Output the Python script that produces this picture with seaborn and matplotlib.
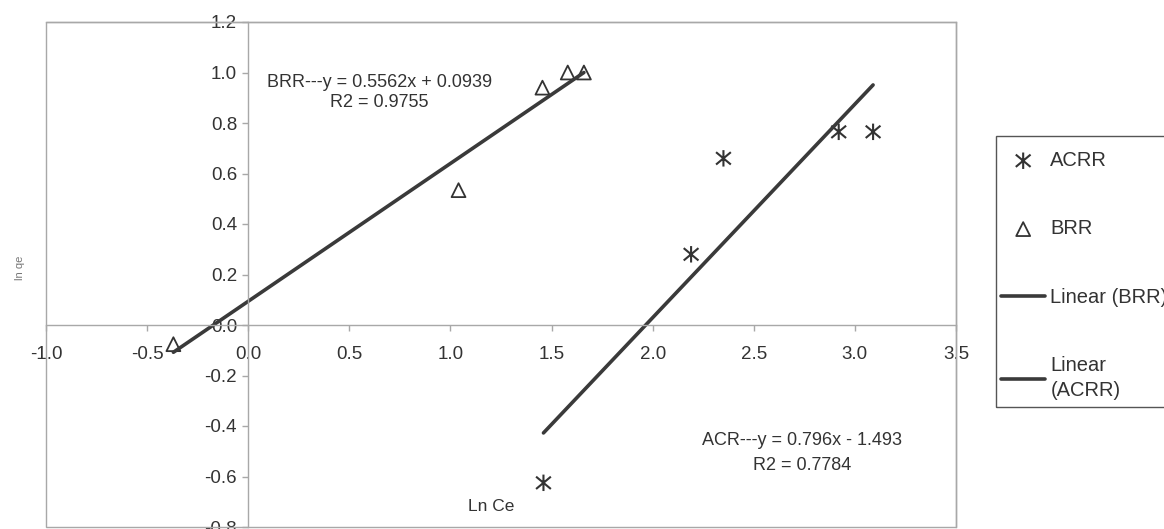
import numpy as np
import seaborn as sns
from matplotlib import pyplot as plt
from matplotlib.patches import Rectangle
from matplotlib.path import Path

sns.set_theme(style="white")
plt.rcParams['font.family'] = ['Liberation Sans', 'DejaVu Sans']

# values
brr_x = [-0.37, 1.04, 1.455, 1.58, 1.66]
brr_y = [-0.076, 0.534, 0.94, 1.0, 1.0]
acrr_x = [1.46, 2.19, 2.35, 2.92, 3.09]
acrr_y = [-0.625, 0.28, 0.66, 0.765, 0.765]

x_ticks = [-1.0, -0.5, 0.0, 0.5, 1.0, 1.5, 2.0, 2.5, 3.0, 3.5]
y_ticks = [-0.8, -0.6, -0.4, -0.2, 0.0, 0.2, 0.4, 0.6, 0.8, 1.0, 1.2]

brr_eq = ["BRR---y = 0.5562x + 0.0939", "R2 = 0.9755"]
acr_eq = ["ACR---y = 0.796x - 1.493", "R2 = 0.7784"]

dark = '#333333'
line_c = '#3a3a3a'
frame_c = '#a8a8a8'

# excel-like asterisk: an X with a vertical bar
star = Path([(0, -1), (0, 1), (-0.9, -0.75), (0.9, 0.75), (-0.9, 0.75), (0.9, -0.75)],
            [Path.MOVETO, Path.LINETO] * 3)

W, H = 1164, 529
fig = plt.figure(figsize=(W / 100, H / 100), dpi=100)
ax = fig.add_axes([46 / W, 2 / H, 910 / W, 505 / H])

sns.scatterplot(x=acrr_x, y=acrr_y, marker=star, s=140, facecolor='none',
                edgecolor=dark, linewidth=1.5, label='ACRR', ax=ax)
sns.scatterplot(x=brr_x, y=brr_y, marker='^', s=100, facecolor='none',
                edgecolor=dark, linewidth=1.3, label='BRR', ax=ax)
sns.regplot(x=brr_x, y=brr_y, scatter=False, ci=None, truncate=True, color=line_c,
            line_kws={'lw': 2.6}, ax=ax)
ax.lines[-1].set_label('Linear (BRR)')
sns.regplot(x=acrr_x, y=acrr_y, scatter=False, ci=None, truncate=True, color=line_c,
            line_kws={'lw': 2.6}, ax=ax)
ax.lines[-1].set_label('Linear\n(ACRR)')

ax.set_xlim(-1.0, 3.5)
ax.set_ylim(-0.8, 1.2)
ax.set_xticks(x_ticks)
ax.set_yticks(y_ticks)
ax.set_xticklabels([f'{v:.1f}' for v in x_ticks])
ax.set_yticklabels([f'{v:.1f}' for v in y_ticks])

for side in ['left', 'bottom']:
    ax.spines[side].set_position(('data', 0))
for side in ax.spines:
    ax.spines[side].set_color(frame_c)
    ax.spines[side].set_linewidth(1)
ax.add_patch(Rectangle((0, 0), 1, 1, transform=ax.transAxes, fill=False,
                       ec=frame_c, lw=1, clip_on=False))

ax.tick_params(axis='x', direction='out', length=4, width=1, color=frame_c,
               pad=11, labelsize=13.5, labelcolor=dark, bottom=True)
ax.tick_params(axis='y', direction='out', length=4, width=1, color=frame_c,
               pad=4, labelsize=13.5, labelcolor=dark, left=True)
ax.set_xlabel('')
ax.set_ylabel('')

# equations and axis labels placed as text inside the plot
ax.text(0.65, 0.962, brr_eq[0], ha='center', va='center', fontsize=13, color=dark)
ax.text(0.65, 0.882, brr_eq[1], ha='center', va='center', fontsize=13, color=dark)
ax.text(2.74, -0.458, acr_eq[0], ha='center', va='center', fontsize=13, color=dark)
ax.text(2.74, -0.558, acr_eq[1], ha='center', va='center', fontsize=13, color=dark)
ax.text(1.2, -0.717, 'Ln Ce', ha='center', va='center', fontsize=12.5, color=dark)
fig.text(20 / W, 1 - 268 / H, 'ln qe', rotation=90, ha='center', va='center',
         fontsize=8, color='#777777')

# legend sits outside the plot, cut by the image edge
handles, labels = ax.get_legend_handles_labels()
order = ['ACRR', 'BRR', 'Linear (BRR)', 'Linear\n(ACRR)']
hmap = dict(zip(labels, handles))
if ax.get_legend() is not None:
    ax.get_legend().remove()
leg = fig.legend([hmap[k] for k in order], order, loc='upper left',
                 bbox_to_anchor=(997 / W, 1 - 147 / H), bbox_transform=fig.transFigure,
                 frameon=False, fontsize=14.5, labelspacing=2.45, handlelength=2.2,
                 handletextpad=0.25, borderpad=0.2, borderaxespad=0, labelcolor=dark)
for t in leg.get_texts():
    t.set_linespacing(1.4)
fig.patches.append(Rectangle((996 / W, 1 - 407 / H), 300 / W, 271 / H,
                             transform=fig.transFigure, fill=False, ec='#555555',
                             lw=1, figure=fig))

fig.savefig('out.png', dpi=100)
